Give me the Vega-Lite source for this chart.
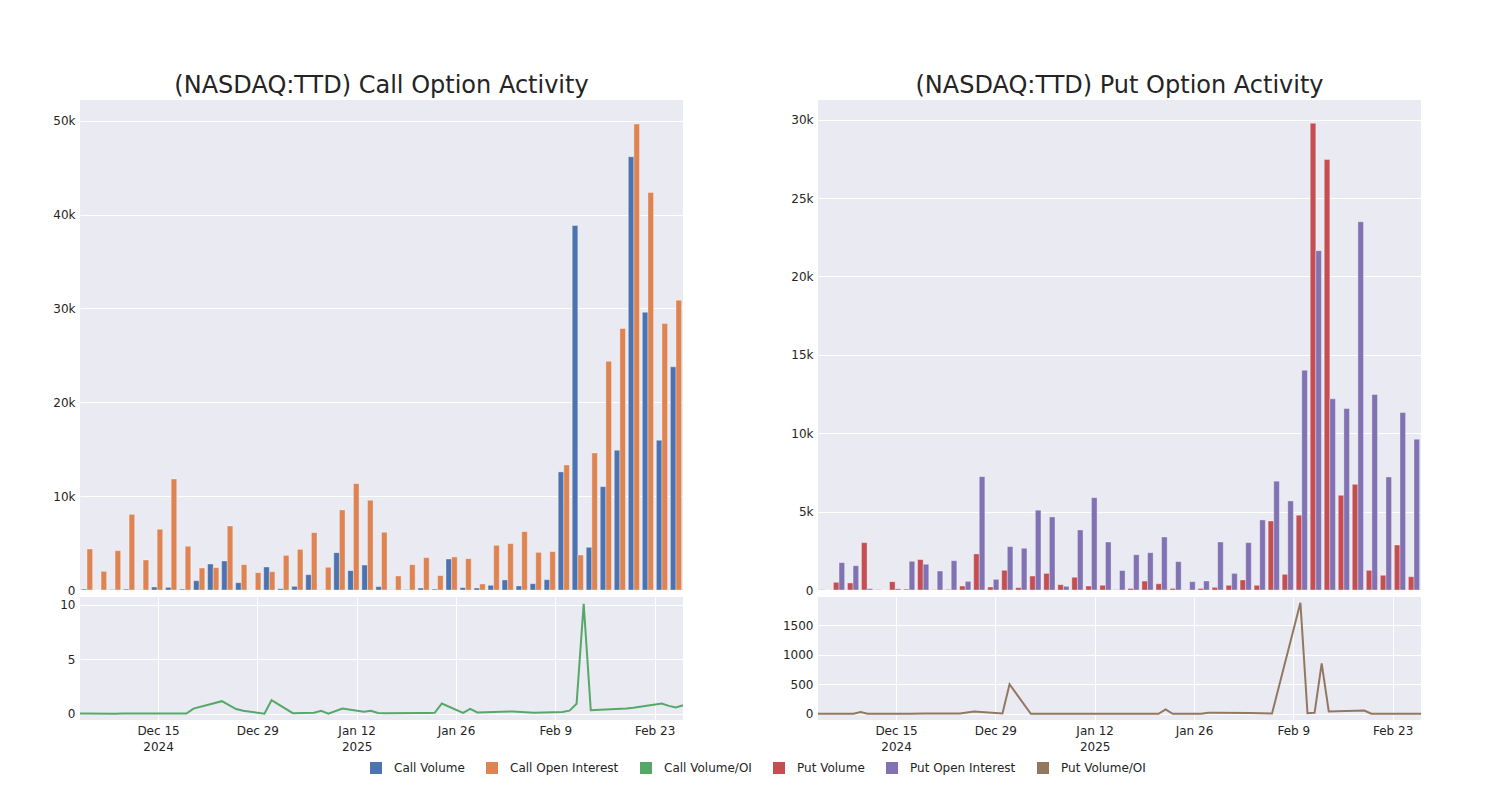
{
  "$schema": "https://vega.github.io/schema/vega-lite/v6.json",
  "background": "white",
  "padding": {"left": 52, "top": 74, "right": 20, "bottom": 10},
  "datasets": {
    "t": [
      {"d":"2024-12-04","s":"Call Volume","v":100},{"d":"2024-12-09","s":"Call Volume","v":0},{"d":"2024-12-10","s":"Call Volume","v":50},{"d":"2024-12-11","s":"Call Volume","v":100},{"d":"2024-12-12","s":"Call Volume","v":20},{"d":"2024-12-13","s":"Call Volume","v":320},{"d":"2024-12-17","s":"Call Volume","v":280},{"d":"2024-12-19","s":"Call Volume","v":100},{"d":"2024-12-20","s":"Call Volume","v":990},{"d":"2024-12-24","s":"Call Volume","v":2770},{"d":"2024-12-26","s":"Call Volume","v":3090},{"d":"2024-12-27","s":"Call Volume","v":780},{"d":"2024-12-30","s":"Call Volume","v":0},{"d":"2024-12-31","s":"Call Volume","v":2450},{"d":"2025-01-03","s":"Call Volume","v":140},{"d":"2025-01-06","s":"Call Volume","v":390},{"d":"2025-01-07","s":"Call Volume","v":1630},{"d":"2025-01-08","s":"Call Volume","v":10},{"d":"2025-01-10","s":"Call Volume","v":3980},{"d":"2025-01-13","s":"Call Volume","v":2060},{"d":"2025-01-14","s":"Call Volume","v":2660},{"d":"2025-01-15","s":"Call Volume","v":360},{"d":"2025-01-16","s":"Call Volume","v":20},{"d":"2025-01-21","s":"Call Volume","v":40},{"d":"2025-01-22","s":"Call Volume","v":210},{"d":"2025-01-23","s":"Call Volume","v":100},{"d":"2025-01-24","s":"Call Volume","v":3300},{"d":"2025-01-27","s":"Call Volume","v":250},{"d":"2025-01-28","s":"Call Volume","v":210},{"d":"2025-01-29","s":"Call Volume","v":500},{"d":"2025-02-03","s":"Call Volume","v":1070},{"d":"2025-02-06","s":"Call Volume","v":430},{"d":"2025-02-10","s":"Call Volume","v":670},{"d":"2025-02-11","s":"Call Volume","v":1100},{"d":"2025-02-12","s":"Call Volume","v":12580},{"d":"2025-02-13","s":"Call Volume","v":38830},{"d":"2025-02-14","s":"Call Volume","v":4550},{"d":"2025-02-19","s":"Call Volume","v":11010},{"d":"2025-02-20","s":"Call Volume","v":14880},{"d":"2025-02-24","s":"Call Volume","v":46150},{"d":"2025-02-25","s":"Call Volume","v":29590},{"d":"2025-02-26","s":"Call Volume","v":15950},{"d":"2025-02-27","s":"Call Volume","v":23770},
      {"d":"2024-12-04","s":"Call Open Interest","v":4370},{"d":"2024-12-09","s":"Call Open Interest","v":1990},{"d":"2024-12-10","s":"Call Open Interest","v":4190},{"d":"2024-12-11","s":"Call Open Interest","v":8060},{"d":"2024-12-12","s":"Call Open Interest","v":3200},{"d":"2024-12-13","s":"Call Open Interest","v":6470},{"d":"2024-12-17","s":"Call Open Interest","v":11830},{"d":"2024-12-19","s":"Call Open Interest","v":4650},{"d":"2024-12-20","s":"Call Open Interest","v":2340},{"d":"2024-12-24","s":"Call Open Interest","v":2380},{"d":"2024-12-26","s":"Call Open Interest","v":6820},{"d":"2024-12-27","s":"Call Open Interest","v":2700},{"d":"2024-12-30","s":"Call Open Interest","v":1850},{"d":"2024-12-31","s":"Call Open Interest","v":1950},{"d":"2025-01-03","s":"Call Open Interest","v":3690},{"d":"2025-01-06","s":"Call Open Interest","v":4330},{"d":"2025-01-07","s":"Call Open Interest","v":6110},{"d":"2025-01-08","s":"Call Open Interest","v":2420},{"d":"2025-01-10","s":"Call Open Interest","v":8530},{"d":"2025-01-13","s":"Call Open Interest","v":11330},{"d":"2025-01-14","s":"Call Open Interest","v":9560},{"d":"2025-01-15","s":"Call Open Interest","v":6150},{"d":"2025-01-16","s":"Call Open Interest","v":1490},{"d":"2025-01-21","s":"Call Open Interest","v":2700},{"d":"2025-01-22","s":"Call Open Interest","v":3450},{"d":"2025-01-23","s":"Call Open Interest","v":1530},{"d":"2025-01-24","s":"Call Open Interest","v":3520},{"d":"2025-01-27","s":"Call Open Interest","v":3340},{"d":"2025-01-28","s":"Call Open Interest","v":640},{"d":"2025-01-29","s":"Call Open Interest","v":4760},{"d":"2025-02-03","s":"Call Open Interest","v":4940},{"d":"2025-02-06","s":"Call Open Interest","v":6220},{"d":"2025-02-10","s":"Call Open Interest","v":4010},{"d":"2025-02-11","s":"Call Open Interest","v":4090},{"d":"2025-02-12","s":"Call Open Interest","v":13320},{"d":"2025-02-13","s":"Call Open Interest","v":3730},{"d":"2025-02-14","s":"Call Open Interest","v":14600},{"d":"2025-02-19","s":"Call Open Interest","v":24370},{"d":"2025-02-20","s":"Call Open Interest","v":27850},{"d":"2025-02-24","s":"Call Open Interest","v":49630},{"d":"2025-02-25","s":"Call Open Interest","v":42340},{"d":"2025-02-26","s":"Call Open Interest","v":28380},{"d":"2025-02-27","s":"Call Open Interest","v":30870},
      {"d":"2024-12-04","s":"Call Volume/OI","v":0.01},{"d":"2024-12-09","s":"Call Volume/OI","v":0},{"d":"2024-12-10","s":"Call Volume/OI","v":0.01},{"d":"2024-12-11","s":"Call Volume/OI","v":0.01},{"d":"2024-12-12","s":"Call Volume/OI","v":0.01},{"d":"2024-12-13","s":"Call Volume/OI","v":0.02},{"d":"2024-12-17","s":"Call Volume/OI","v":0.02},{"d":"2024-12-19","s":"Call Volume/OI","v":0.02},{"d":"2024-12-20","s":"Call Volume/OI","v":0.47},{"d":"2024-12-24","s":"Call Volume/OI","v":1.15},{"d":"2024-12-26","s":"Call Volume/OI","v":0.43},{"d":"2024-12-27","s":"Call Volume/OI","v":0.27},{"d":"2024-12-30","s":"Call Volume/OI","v":0},{"d":"2024-12-31","s":"Call Volume/OI","v":1.24},{"d":"2025-01-03","s":"Call Volume/OI","v":0.05},{"d":"2025-01-06","s":"Call Volume/OI","v":0.08},{"d":"2025-01-07","s":"Call Volume/OI","v":0.26},{"d":"2025-01-08","s":"Call Volume/OI","v":0},{"d":"2025-01-10","s":"Call Volume/OI","v":0.48},{"d":"2025-01-13","s":"Call Volume/OI","v":0.19},{"d":"2025-01-14","s":"Call Volume/OI","v":0.27},{"d":"2025-01-15","s":"Call Volume/OI","v":0.06},{"d":"2025-01-16","s":"Call Volume/OI","v":0.05},{"d":"2025-01-21","s":"Call Volume/OI","v":0.06},{"d":"2025-01-22","s":"Call Volume/OI","v":0.07},{"d":"2025-01-23","s":"Call Volume/OI","v":0.08},{"d":"2025-01-24","s":"Call Volume/OI","v":0.94},{"d":"2025-01-27","s":"Call Volume/OI","v":0.07},{"d":"2025-01-28","s":"Call Volume/OI","v":0.44},{"d":"2025-01-29","s":"Call Volume/OI","v":0.12},{"d":"2025-02-03","s":"Call Volume/OI","v":0.21},{"d":"2025-02-06","s":"Call Volume/OI","v":0.08},{"d":"2025-02-10","s":"Call Volume/OI","v":0.16},{"d":"2025-02-11","s":"Call Volume/OI","v":0.28},{"d":"2025-02-12","s":"Call Volume/OI","v":0.92},{"d":"2025-02-13","s":"Call Volume/OI","v":10.1},{"d":"2025-02-14","s":"Call Volume/OI","v":0.32},{"d":"2025-02-19","s":"Call Volume/OI","v":0.47},{"d":"2025-02-20","s":"Call Volume/OI","v":0.54},{"d":"2025-02-24","s":"Call Volume/OI","v":0.94},{"d":"2025-02-25","s":"Call Volume/OI","v":0.72},{"d":"2025-02-26","s":"Call Volume/OI","v":0.57},{"d":"2025-02-27","s":"Call Volume/OI","v":0.78},
      {"d":"2024-12-04","s":"Put Volume","v":20},{"d":"2024-12-09","s":"Put Volume","v":490},{"d":"2024-12-10","s":"Put Volume","v":450},{"d":"2024-12-11","s":"Put Volume","v":3020},{"d":"2024-12-12","s":"Put Volume","v":20},{"d":"2024-12-13","s":"Put Volume","v":530},{"d":"2024-12-17","s":"Put Volume","v":60},{"d":"2024-12-19","s":"Put Volume","v":1940},{"d":"2024-12-20","s":"Put Volume","v":20},{"d":"2024-12-24","s":"Put Volume","v":40},{"d":"2024-12-26","s":"Put Volume","v":255},{"d":"2024-12-27","s":"Put Volume","v":2300},{"d":"2024-12-30","s":"Put Volume","v":190},{"d":"2024-12-31","s":"Put Volume","v":1255},{"d":"2025-01-03","s":"Put Volume","v":150},{"d":"2025-01-06","s":"Put Volume","v":890},{"d":"2025-01-07","s":"Put Volume","v":1060},{"d":"2025-01-08","s":"Put Volume","v":340},{"d":"2025-01-10","s":"Put Volume","v":810},{"d":"2025-01-13","s":"Put Volume","v":255},{"d":"2025-01-14","s":"Put Volume","v":300},{"d":"2025-01-15","s":"Put Volume","v":20},{"d":"2025-01-16","s":"Put Volume","v":100},{"d":"2025-01-21","s":"Put Volume","v":570},{"d":"2025-01-22","s":"Put Volume","v":400},{"d":"2025-01-23","s":"Put Volume","v":100},{"d":"2025-01-24","s":"Put Volume","v":10},{"d":"2025-01-27","s":"Put Volume","v":100},{"d":"2025-01-28","s":"Put Volume","v":170},{"d":"2025-01-29","s":"Put Volume","v":300},{"d":"2025-02-03","s":"Put Volume","v":640},{"d":"2025-02-06","s":"Put Volume","v":300},{"d":"2025-02-10","s":"Put Volume","v":4400},{"d":"2025-02-11","s":"Put Volume","v":1000},{"d":"2025-02-12","s":"Put Volume","v":4770},{"d":"2025-02-13","s":"Put Volume","v":29770},{"d":"2025-02-14","s":"Put Volume","v":27450},{"d":"2025-02-19","s":"Put Volume","v":6040},{"d":"2025-02-20","s":"Put Volume","v":6740},{"d":"2025-02-24","s":"Put Volume","v":1255},{"d":"2025-02-25","s":"Put Volume","v":940},{"d":"2025-02-26","s":"Put Volume","v":2870},{"d":"2025-02-27","s":"Put Volume","v":850},
      {"d":"2024-12-04","s":"Put Open Interest","v":0},{"d":"2024-12-09","s":"Put Open Interest","v":1745},{"d":"2024-12-10","s":"Put Open Interest","v":1550},{"d":"2024-12-11","s":"Put Open Interest","v":85},{"d":"2024-12-12","s":"Put Open Interest","v":0},{"d":"2024-12-13","s":"Put Open Interest","v":85},{"d":"2024-12-17","s":"Put Open Interest","v":1830},{"d":"2024-12-19","s":"Put Open Interest","v":1640},{"d":"2024-12-20","s":"Put Open Interest","v":1210},{"d":"2024-12-24","s":"Put Open Interest","v":1870},{"d":"2024-12-26","s":"Put Open Interest","v":550},{"d":"2024-12-27","s":"Put Open Interest","v":7230},{"d":"2024-12-30","s":"Put Open Interest","v":680},{"d":"2024-12-31","s":"Put Open Interest","v":2770},{"d":"2025-01-03","s":"Put Open Interest","v":2660},{"d":"2025-01-06","s":"Put Open Interest","v":5090},{"d":"2025-01-07","s":"Put Open Interest","v":4660},{"d":"2025-01-08","s":"Put Open Interest","v":235},{"d":"2025-01-10","s":"Put Open Interest","v":3830},{"d":"2025-01-13","s":"Put Open Interest","v":5890},{"d":"2025-01-14","s":"Put Open Interest","v":3060},{"d":"2025-01-15","s":"Put Open Interest","v":1240},{"d":"2025-01-16","s":"Put Open Interest","v":2250},{"d":"2025-01-21","s":"Put Open Interest","v":2380},{"d":"2025-01-22","s":"Put Open Interest","v":3380},{"d":"2025-01-23","s":"Put Open Interest","v":1810},{"d":"2025-01-24","s":"Put Open Interest","v":530},{"d":"2025-01-27","s":"Put Open Interest","v":575},{"d":"2025-01-28","s":"Put Open Interest","v":3060},{"d":"2025-01-29","s":"Put Open Interest","v":1060},{"d":"2025-02-03","s":"Put Open Interest","v":3020},{"d":"2025-02-06","s":"Put Open Interest","v":4470},{"d":"2025-02-10","s":"Put Open Interest","v":6940},{"d":"2025-02-11","s":"Put Open Interest","v":5680},{"d":"2025-02-12","s":"Put Open Interest","v":14020},{"d":"2025-02-13","s":"Put Open Interest","v":21640},{"d":"2025-02-14","s":"Put Open Interest","v":12190},{"d":"2025-02-19","s":"Put Open Interest","v":11570},{"d":"2025-02-20","s":"Put Open Interest","v":23490},{"d":"2025-02-24","s":"Put Open Interest","v":12470},{"d":"2025-02-25","s":"Put Open Interest","v":7210},{"d":"2025-02-26","s":"Put Open Interest","v":11320},{"d":"2025-02-27","s":"Put Open Interest","v":9620},
      {"d":"2024-12-04","s":"Put Volume/OI","v":0},{"d":"2024-12-09","s":"Put Volume/OI","v":0},{"d":"2024-12-10","s":"Put Volume/OI","v":30},{"d":"2024-12-11","s":"Put Volume/OI","v":0},{"d":"2024-12-12","s":"Put Volume/OI","v":0},{"d":"2024-12-13","s":"Put Volume/OI","v":1},{"d":"2024-12-17","s":"Put Volume/OI","v":2},{"d":"2024-12-19","s":"Put Volume/OI","v":3},{"d":"2024-12-20","s":"Put Volume/OI","v":3},{"d":"2024-12-24","s":"Put Volume/OI","v":3},{"d":"2024-12-26","s":"Put Volume/OI","v":38},{"d":"2024-12-27","s":"Put Volume/OI","v":28},{"d":"2024-12-30","s":"Put Volume/OI","v":5},{"d":"2024-12-31","s":"Put Volume/OI","v":500},{"d":"2025-01-03","s":"Put Volume/OI","v":0},{"d":"2025-01-06","s":"Put Volume/OI","v":0},{"d":"2025-01-07","s":"Put Volume/OI","v":0},{"d":"2025-01-08","s":"Put Volume/OI","v":0},{"d":"2025-01-10","s":"Put Volume/OI","v":0},{"d":"2025-01-13","s":"Put Volume/OI","v":0},{"d":"2025-01-14","s":"Put Volume/OI","v":0},{"d":"2025-01-15","s":"Put Volume/OI","v":0},{"d":"2025-01-16","s":"Put Volume/OI","v":0},{"d":"2025-01-21","s":"Put Volume/OI","v":0},{"d":"2025-01-22","s":"Put Volume/OI","v":75},{"d":"2025-01-23","s":"Put Volume/OI","v":0},{"d":"2025-01-24","s":"Put Volume/OI","v":0},{"d":"2025-01-27","s":"Put Volume/OI","v":2},{"d":"2025-01-28","s":"Put Volume/OI","v":18},{"d":"2025-01-29","s":"Put Volume/OI","v":15},{"d":"2025-02-03","s":"Put Volume/OI","v":12},{"d":"2025-02-06","s":"Put Volume/OI","v":5},{"d":"2025-02-10","s":"Put Volume/OI","v":1880},{"d":"2025-02-11","s":"Put Volume/OI","v":8},{"d":"2025-02-12","s":"Put Volume/OI","v":15},{"d":"2025-02-13","s":"Put Volume/OI","v":855},{"d":"2025-02-14","s":"Put Volume/OI","v":40},{"d":"2025-02-19","s":"Put Volume/OI","v":55},{"d":"2025-02-20","s":"Put Volume/OI","v":0},{"d":"2025-02-24","s":"Put Volume/OI","v":0},{"d":"2025-02-25","s":"Put Volume/OI","v":0},{"d":"2025-02-26","s":"Put Volume/OI","v":0},{"d":"2025-02-27","s":"Put Volume/OI","v":0}
    ]
  },
  "hconcat": [
    {
      "spacing": 1,
      "vconcat": [
        {
          "title": {"text": "(NASDAQ:TTD) Call Option Activity"},
          "width": 603, "height": 490,
          "data": {"name": "t"},
          "transform": [{"filter": {"field": "s", "oneOf": ["Call Volume", "Call Open Interest"]}}],
          "mark": {"type": "bar", "stroke": "white", "strokeWidth": 0.5, "strokeOpacity": 0.7},
          "encoding": {
            "x": {"field": "d", "type": "ordinal", "scale": {"paddingInner": 0.2, "paddingOuter": 0.1},
                  "axis": {"title": null, "labels": false, "ticks": false, "domain": false, "grid": true, "bandPosition": 0.5,
                           "values": ["2024-12-04", "2024-12-26", "2025-01-14", "2025-02-03", "2025-02-25"]}},
            "xOffset": {"field": "s", "sort": ["Call Volume", "Call Open Interest"], "scale": {"domain": ["Call Volume", "Call Open Interest"], "paddingInner": 0, "paddingOuter": 0}},
            "y": {"field": "v", "type": "quantitative", "scale": {"domain": [0, 52200], "nice": false},
                  "axis": {"title": null, "values": [0, 10000, 20000, 30000, 40000, 50000], "labelExpr": "datum.value == 0 ? '0' : (datum.value / 1000) + 'k'"}},
            "color": {"field": "s", "type": "nominal"}
          }
        },
        {
          "width": 603, "height": 123,
          "data": {"name": "t"},
          "transform": [{"filter": {"field": "s", "equal": "Call Volume/OI"}}],
          "mark": {"type": "line", "strokeWidth": 2},
          "encoding": {
            "x": {"field": "d", "type": "temporal",
                  "scale": {"type": "utc", "nice": false, "domain": [{"year": 2024, "month": 12, "date": 4, "utc": true}, {"year": 2025, "month": 2, "date": 27, "utc": true}]},
                  "axis": {"title": null, "grid": true,
                           "values": [{"year": 2024, "month": 12, "date": 15, "utc": true}, {"year": 2024, "month": 12, "date": 29, "utc": true}, {"year": 2025, "month": 1, "date": 12, "utc": true}, {"year": 2025, "month": 1, "date": 26, "utc": true}, {"year": 2025, "month": 2, "date": 9, "utc": true}, {"year": 2025, "month": 2, "date": 23, "utc": true}],
                           "labelExpr": "indexof(['Dec 15','Jan 12'], utcFormat(datum.value, '%b %-d')) >= 0 ? [utcFormat(datum.value, '%b %-d'), utcFormat(datum.value, '%Y')] : utcFormat(datum.value, '%b %-d')"}},
            "y": {"field": "v", "type": "quantitative", "scale": {"domain": [-0.58, 10.73], "nice": false, "zero": false},
                  "axis": {"title": null, "values": [0, 5, 10]}},
            "color": {"field": "s", "type": "nominal"}
          }
        }
      ]
    },
    {
      "spacing": 1,
      "vconcat": [
        {
          "title": {"text": "(NASDAQ:TTD) Put Option Activity"},
          "width": 603, "height": 490,
          "data": {"name": "t"},
          "transform": [{"filter": {"field": "s", "oneOf": ["Put Volume", "Put Open Interest"]}}],
          "mark": {"type": "bar", "stroke": "white", "strokeWidth": 0.5, "strokeOpacity": 0.7},
          "encoding": {
            "x": {"field": "d", "type": "ordinal", "scale": {"paddingInner": 0.2, "paddingOuter": 0.1},
                  "axis": {"title": null, "labels": false, "ticks": false, "domain": false, "grid": true, "bandPosition": 0.5,
                           "values": ["2024-12-04", "2024-12-26", "2025-01-14", "2025-02-03", "2025-02-25"]}},
            "xOffset": {"field": "s", "sort": ["Put Volume", "Put Open Interest"], "scale": {"domain": ["Put Volume", "Put Open Interest"], "paddingInner": 0, "paddingOuter": 0}},
            "y": {"field": "v", "type": "quantitative", "scale": {"domain": [0, 31250], "nice": false},
                  "axis": {"title": null, "values": [0, 5000, 10000, 15000, 20000, 25000, 30000], "labelExpr": "datum.value == 0 ? '0' : (datum.value / 1000) + 'k'"}},
            "color": {"field": "s", "type": "nominal"}
          }
        },
        {
          "width": 603, "height": 123,
          "data": {"name": "t"},
          "transform": [{"filter": {"field": "s", "equal": "Put Volume/OI"}}],
          "mark": {"type": "line", "strokeWidth": 2},
          "encoding": {
            "x": {"field": "d", "type": "temporal",
                  "scale": {"type": "utc", "nice": false, "domain": [{"year": 2024, "month": 12, "date": 4, "utc": true}, {"year": 2025, "month": 2, "date": 27, "utc": true}]},
                  "axis": {"title": null, "grid": true,
                           "values": [{"year": 2024, "month": 12, "date": 15, "utc": true}, {"year": 2024, "month": 12, "date": 29, "utc": true}, {"year": 2025, "month": 1, "date": 12, "utc": true}, {"year": 2025, "month": 1, "date": 26, "utc": true}, {"year": 2025, "month": 2, "date": 9, "utc": true}, {"year": 2025, "month": 2, "date": 23, "utc": true}],
                           "labelExpr": "indexof(['Dec 15','Jan 12'], utcFormat(datum.value, '%b %-d')) >= 0 ? [utcFormat(datum.value, '%b %-d'), utcFormat(datum.value, '%Y')] : utcFormat(datum.value, '%b %-d')"}},
            "y": {"field": "v", "type": "quantitative", "scale": {"domain": [-106, 1978], "nice": false, "zero": false},
                  "axis": {"title": null, "values": [0, 500, 1000, 1500], "format": "d"}},
            "color": {"field": "s", "type": "nominal",
                      "scale": {"domain": ["Call Volume", "Call Open Interest", "Call Volume/OI", "Put Volume", "Put Open Interest", "Put Volume/OI"],
                                "range": ["#4C72B0", "#DD8452", "#55A868", "#C44E52", "#8172B3", "#937860"]}}
          }
        }
      ]
    }
  ],
  "spacing": 95,
  "resolve": {"scale": {"color": "shared", "xOffset": "independent"}},
  "config": {
    "font": "DejaVu Sans",
    "view": {"fill": "#EAEAF2", "stroke": null},
    "axis": {"gridColor": "white", "gridWidth": 1, "domain": false, "ticks": false, "labelColor": "#242424", "labelFontSize": 12, "labelPadding": 5, "labelLineHeight": 16, "labelFont": "DejaVu Sans"},
    "title": {"fontSize": 24, "fontWeight": "normal", "color": "#242424", "anchor": "middle", "offset": 2, "font": "DejaVu Sans"},
    "range": {"category": ["#4C72B0", "#DD8452", "#55A868", "#C44E52", "#8172B3", "#937860"]},
    "legend": {
      "orient": "none", "legendX": 290, "legendY": 662, "direction": "horizontal", "title": null, "padding": 0,
      "labelFontSize": 12, "labelColor": "#242424", "labelFont": "DejaVu Sans", "labelOffset": 12,
      "symbolSize": 144, "symbolType": "square", "columnPadding": 21, "symbolStrokeWidth": 0,
      "values": ["Call Volume", "Call Open Interest", "Call Volume/OI", "Put Volume", "Put Open Interest", "Put Volume/OI"]
    }
  }
}
